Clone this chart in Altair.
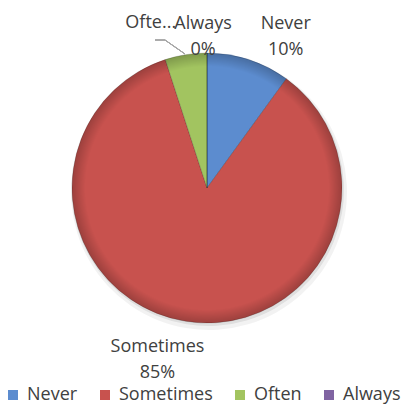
import altair as alt
import pandas as pd

categories = ["Never", "Sometimes", "Often", "Always"]
values = [10, 85, 5, 0]
labels = ["Never\n10%", "Sometimes\n85%", "Ofte...", "Always\n0%"]
colors = ["#5C8CCF", "#C8524E", "#A2C460", "#8064A2"]

df = pd.DataFrame({"cat": categories, "value": values, "label": labels,
                   "order": list(range(len(categories)))})

CX, CY, R = 199, 180, 135
FONT = "Open Sans"
TXT = "#404040"

base = alt.Chart(df)

color_scale = alt.Scale(domain=categories, range=colors)

shadow1 = base.mark_arc(outerRadius=R + 3, fill="#000000", opacity=0.05).encode(
    theta=alt.Theta("value:Q", stack=True), order=alt.Order("order:Q"),
    x=alt.value(CX + 2), y=alt.value(CY + 4),
)
shadow2 = base.mark_arc(outerRadius=R + 1, fill="#000000", opacity=0.08).encode(
    theta=alt.Theta("value:Q", stack=True), order=alt.Order("order:Q"),
    x=alt.value(CX + 1), y=alt.value(CY + 2),
)

pie = base.mark_arc(outerRadius=R, stroke="#00000038", strokeWidth=0.8).encode(
    theta=alt.Theta("value:Q", stack=True),
    color=alt.Color("cat:N", scale=color_scale, sort=categories,
                    legend=alt.Legend(title=None, orient="none", direction="horizontal",
                                      legendX=-4, legendY=378, padding=0,
                                      symbolType="square",
                                      symbolSize=100, symbolStrokeWidth=0,
                                      labelFont=FONT, labelFontSize=18, labelColor=TXT,
                                      labelOffset=5, columnPadding=18, columns=4)),
    order=alt.Order("order:Q"),
    x=alt.value(CX), y=alt.value(CY),
)

rim = base.mark_arc(
    outerRadius=R,
    fill=alt.RadialGradient(
        gradient="radial",
        stops=[alt.GradientStop(offset=0, color="rgba(0,0,0,0)"),
               alt.GradientStop(offset=0.9, color="rgba(0,0,0,0)"),
               alt.GradientStop(offset=1, color="rgba(0,0,0,0.22)")],
    ),
).encode(
    theta=alt.Theta("value:Q", stack=True, aggregate="sum"),
    x=alt.value(CX), y=alt.value(CY),
)

stacked = base.transform_window(
    cum="sum(value)", sort=[alt.SortField("order")]
).transform_calculate(mid="datum.cum - datum.value / 2")

def label_layer(cat, radius, dx, dy=0):
    return stacked.transform_filter(alt.datum.cat == cat).mark_text(
        radius=radius, dx=dx, dy=dy, font=FONT, fontSize=18, color=TXT,
        lineBreak="\n", lineHeight=26, align="center", baseline="middle"
    ).encode(
        theta=alt.Theta("mid:Q", scale=alt.Scale(domain=[0, 100]), stack=None),
        text="label:N",
        x=alt.value(CX), y=alt.value(CY),
    )

texts = [
    label_layer("Never", 161, 29, -11),
    label_layer("Sometimes", 176, -22, -15),
    label_layer("Often", 168, -30, 1),
    label_layer("Always", 153, -4, -11),
]

lead1 = alt.Chart(df).mark_rule(color="#a6a6a6", strokeWidth=1).encode(
    x=alt.value(147), x2=alt.value(157), y=alt.value(32), y2=alt.value(32))
lead2 = alt.Chart(df).mark_rule(color="#a6a6a6", strokeWidth=1).encode(
    x=alt.value(157), x2=alt.value(177), y=alt.value(32), y2=alt.value(46))

chart = alt.layer(shadow1, shadow2, pie, rim, lead1, lead2, *texts).properties(
    width=396, height=397, padding=0, autosize=alt.AutoSizeParams(type="none")
).configure_view(stroke=None)

chart.save("out.html", embed_options={"renderer": "svg", "actions": False})
